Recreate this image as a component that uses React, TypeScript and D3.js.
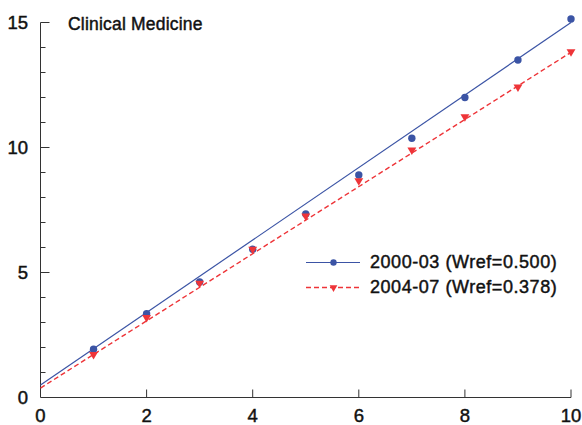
import React from "react";
import * as d3 from "d3";

// Citation counts by percentile class, two periods
const xValues = [1, 2, 3, 4, 5, 6, 7, 8, 9, 10];
const period1Values = [1.93, 3.35, 4.62, 5.93, 7.34, 8.9, 10.37, 12.0, 13.5, 15.14];
const period2Values = [1.72, 3.2, 4.57, 5.93, 7.26, 8.67, 9.9, 11.23, 12.42, 13.83];
const seriesNames = ["2000-03 (Wref=0.500)", "2004-07 (Wref=0.378)"];
// Fitted lines: intercept and slope per series
const fitIntercepts = [0.5, 0.378];
const fitSlopes = [1.45, 1.343];
const xTicks = [0, 2, 4, 6, 8, 10];
const yTicks = [0, 5, 10, 15];
const yMinorTicks = [1, 2, 3, 4, 6, 7, 8, 9, 11, 12, 13, 14];
const title = "Clinical Medicine";

const W = 582;
const H = 425;
const FONT = "'Liberation Sans', Arial, sans-serif";
const BLUE = "#3b54a5";
const RED = "#ee3438";
const AXIS = "#333";
const INK = "#111";

// medium-weight look for the labels
const textStyle = {
  fontFamily: FONT,
  fill: INK,
  stroke: INK,
  strokeWidth: 0.45,
  paintOrder: "stroke",
} as React.CSSProperties;

export default function App() {
  const x = d3.scaleLinear().domain([0, 10]).range([40.5, 571]);
  const y = d3.scaleLinear().domain([0, 15]).range([397.5, 22.5]);

  const fitLine = (i: number) =>
    d3
      .line<number>()
      .x((d) => x(d))
      .y((d) => y(fitIntercepts[i] + fitSlopes[i] * d))([0, 10]) || "";

  const tri = d3.symbol().type(d3.symbolTriangle).size(34)() || "";

  const legendX0 = 306;
  const legendX1 = 360;
  const legendY = [262.5, 287.5];

  return (
    <div style={{ position: "fixed", left: 0, top: 0 }}>
      <svg width={W} height={H} style={{ display: "block", background: "#fff" }}>
        {/* axes */}
        <line x1={x(0)} x2={x(0)} y1={y(0)} y2={y(15)} stroke={AXIS} strokeWidth={1} />
        <line x1={x(0)} x2={x(10)} y1={y(0)} y2={y(0)} stroke={AXIS} strokeWidth={1} />
        {yTicks.map((t) => (
          <g key={"y" + t}>
            {t > 0 && (
              <line x1={x(0)} x2={x(0) + 9} y1={y(t)} y2={y(t)} stroke={AXIS} strokeWidth={1} />
            )}
            <text x={28} y={y(t)} dy="0.36em" textAnchor="end" fontSize={18.5} style={textStyle}>
              {t}
            </text>
          </g>
        ))}
        {yMinorTicks.map((t) => (
          <line key={"m" + t} x1={x(0)} x2={x(0) + 5} y1={y(t)} y2={y(t)} stroke={AXIS} strokeWidth={1} />
        ))}
        {xTicks.map((t) => (
          <g key={"x" + t}>
            {t > 0 && (
              <line x1={x(t)} x2={x(t)} y1={y(0)} y2={y(0) - 8} stroke={AXIS} strokeWidth={1} />
            )}
            <text x={x(t)} y={422} textAnchor="middle" fontSize={18.5} style={textStyle}>
              {t}
            </text>
          </g>
        ))}

        {/* title */}
        <text x={68} y={30} fontSize={17.5} letterSpacing={0.2} style={textStyle}>
          {title}
        </text>

        {/* fitted lines */}
        <path d={fitLine(0)} fill="none" stroke={BLUE} strokeWidth={1.2} />
        <path d={fitLine(1)} fill="none" stroke={RED} strokeWidth={1.4} strokeDasharray="5,3" />

        {/* points */}
        {xValues.map((v, i) => (
          <circle key={"b" + i} cx={x(v)} cy={y(period1Values[i])} r={3.7} fill={BLUE} />
        ))}
        {xValues.map((v, i) => (
          <path
            key={"r" + i}
            d={tri}
            transform={`translate(${x(v)},${y(period2Values[i])}) rotate(180)`}
            fill={RED}
          />
        ))}

        {/* legend */}
        <line x1={legendX0} x2={legendX1} y1={legendY[0]} y2={legendY[0]} stroke={BLUE} strokeWidth={1.2} />
        <circle cx={(legendX0 + legendX1) / 2 + 0.5} cy={legendY[0]} r={3.2} fill={BLUE} />
        <line
          x1={legendX0}
          x2={legendX1}
          y1={legendY[1]}
          y2={legendY[1]}
          stroke={RED}
          strokeWidth={1.4}
          strokeDasharray="5,3"
        />
        <path
          d={d3.symbol().type(d3.symbolTriangle).size(26)() || ""}
          transform={`translate(${(legendX0 + legendX1) / 2 + 0.5},${legendY[1]}) rotate(180)`}
          fill={RED}
        />
        {seriesNames.map((n, i) => (
          <text
            key={n}
            x={370}
            y={legendY[i] + 5.8}
            fontSize={18}
            letterSpacing={0.55}
            style={textStyle}
          >
            {n}
          </text>
        ))}
      </svg>
    </div>
  );
}
